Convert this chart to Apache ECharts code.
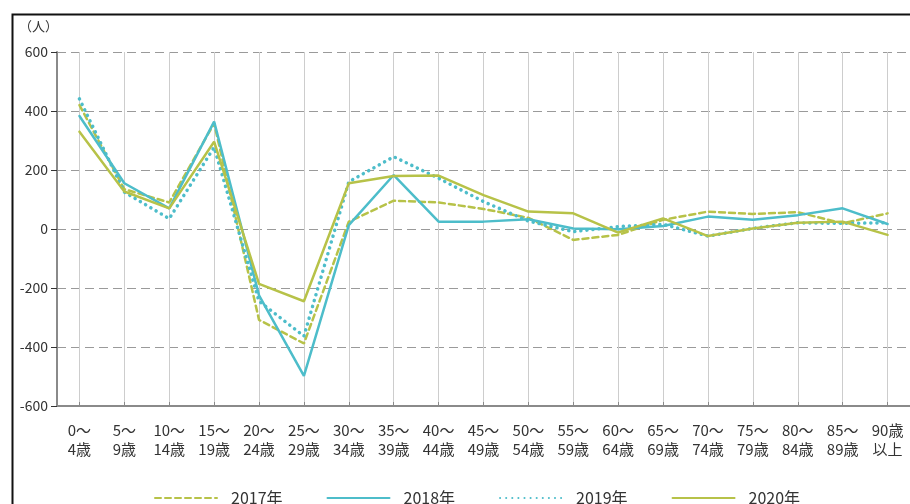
<!DOCTYPE html>
<html>
<head>
<meta charset="utf-8">
<script src="https://cdn.jsdelivr.net/npm/echarts@6/dist/echarts.min.js"></script>
<style>
  html, body { margin: 0; padding: 0; background: #fff; }
  #chart { width: 910px; height: 504px; }
</style>
</head>
<body>
<div id="chart"></div>
<script>
// 年齢階級
const ageGroups = [
  "0～\n4歳", "5～\n9歳", "10～\n14歳", "15～\n19歳", "20～\n24歳",
  "25～\n29歳", "30～\n34歳", "35～\n39歳", "40～\n44歳", "45～\n49歳",
  "50～\n54歳", "55～\n59歳", "60～\n64歳", "65～\n69歳", "70～\n74歳",
  "75～\n79歳", "80～\n84歳", "85～\n89歳", "90歳\n以上"
];
const years = ["2017年", "2018年", "2019年", "2020年"];
const v2017 = [420, 135, 90, 358, -308, -388, 25, 96, 90, 68, 38, -37, -20, 31, 59, 51, 57, 19, 53];
const v2018 = [383, 155, 70, 364, -225, -498, 13, 183, 25, 25, 33, 2, -1, 10, 42, 31, 47, 70, 17];
const v2019 = [441, 125, 35, 277, -245, -363, 160, 245, 172, 93, 27, -9, 8, 16, -24, 2, 21, 19, 21];
const v2020 = [330, 127, 70, 296, -186, -245, 155, 180, 181, 115, 59, 53, -12, 36, -24, 2, 21, 25, -20];
const yTicks = { min: -600, max: 600, interval: 200 };

const green = "#b7c248";
const teal = "#4dbdca";
const font = "Noto Sans CJK JP";

function makeLine(name, data, color, type, width) {
  return {
    name: name,
    type: "line",
    data: data,
    symbol: "none",
    lineStyle: { color: color, width: width, type: type, cap: "round" },
    itemStyle: { color: color },
  };
}

const myChart = echarts.init(document.getElementById("chart"));
const option = {
  animation: false,
  textStyle: { fontFamily: font },
  graphic: [
    {
      type: "rect",
      left: 10,
      top: 12,
      shape: { width: 1000, height: 1000 },
      style: { fill: "none", stroke: "#111", lineWidth: 2 },
      z: -1,
    },
    {
      type: "text",
      left: 19,
      top: 20,
      style: { text: "（人）", fontSize: 13, fill: "#333", fontFamily: font },
    },
  ],
  grid: { left: 57, top: 52, width: 857, height: 354 },
  xAxis: {
    type: "category",
    data: ageGroups,
    boundaryGap: true,
    axisLine: { onZero: false, lineStyle: { color: "#8a8a8a", width: 2 } },
    axisTick: { show: true, alignWithLabel: true, inside: true, length: 4, lineStyle: { color: "#8a8a8a" } },
    axisLabel: { color: "#333", fontSize: 15, lineHeight: 19, margin: 15, interval: 0 },
    splitLine: { show: true, alignWithLabel: true, lineStyle: { color: "#cdcdcd", width: 1 } },
  },
  yAxis: {
    type: "value",
    min: yTicks.min,
    max: yTicks.max,
    interval: yTicks.interval,
    axisLine: { show: true, lineStyle: { color: "#8a8a8a", width: 2 } },
    axisTick: { show: true, length: 6, lineStyle: { color: "#333" } },
    axisLabel: { color: "#333", fontSize: 14, margin: 9 },
    splitLine: { lineStyle: { color: "#9a9a9a", type: [9, 5], width: 1 } },
  },
  legend: {
    left: 149,
    top: 485,
    itemWidth: 62,
    itemHeight: 12,
    itemGap: 44,
    itemStyle: { opacity: 0 },
    textStyle: { color: "#333", fontSize: 16, padding: [0, 0, 0, 9] },
    data: years,
  },
  series: [
    makeLine(years[0], v2017, green, [6, 4], 2.5),
    makeLine(years[1], v2018, teal, "solid", 2.5),
    makeLine(years[2], v2019, teal, [0.1, 6], 3.5),
    makeLine(years[3], v2020, green, "solid", 2.5),
  ],
};
myChart.setOption(option);
</script>
</body>
</html>
